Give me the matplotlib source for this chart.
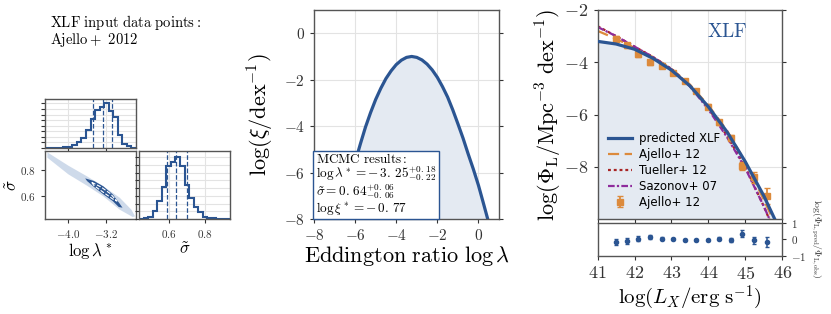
import numpy as np
import matplotlib.pyplot as plt

plt.rcParams['font.family'] = 'serif'
plt.rcParams['font.serif'] = ['cmr10', 'DejaVu Serif']
plt.rcParams['mathtext.fontset'] = 'cm'
plt.rcParams['axes.unicode_minus'] = False

BLEU = '#2b5592'
REMPLI = '#e4eaf2'
ORANGE = '#dc8a3c'
ROUGE = '#a82424'
VIOLET = '#8e2c9c'
GRILLE = '#e3e3e3'
CADRE = '#555555'

# --- corner plot (posterieurs MCMC) ---
bords_lam = np.linspace(-4.5, -2.55, 21)
hist_lam = [0, 0, 0.005, 0.01, 0.02, 0.03, 0.07, 0.13, 0.22, 0.41,
            0.64, 0.85, 0.93, 1.0, 0.82, 0.70, 0.30, 0.10, 0.04, 0.01]
quantiles_lam = [-3.47, -3.25, -3.07]

bords_sig = np.linspace(0.43, 0.94, 21)
hist_sig = [0, 0.01, 0.04, 0.13, 0.29, 0.52, 0.86, 0.93, 1.0, 0.85,
            0.55, 0.34, 0.19, 0.11, 0.04, 0.02, 0.01, 0.005, 0, 0]
quantiles_sig = [0.585, 0.64, 0.70]

# nuage 2D : contours
nuage_x = [-4.45, -4.0, -3.6, -3.25, -2.9, -2.65, -2.57, -2.62, -2.9, -3.25, -3.6, -4.0, -4.45]
nuage_y = [0.93, 0.83, 0.75, 0.675, 0.59, 0.50, 0.45, 0.445, 0.50, 0.60, 0.68, 0.765, 0.89]
coeur_x = [-3.64, -3.45, -3.25, -3.05, -2.9, -2.84, -2.92, -3.05, -3.25, -3.45, -3.6, -3.64]
coeur_y = [0.735, 0.715, 0.675, 0.615, 0.545, 0.515, 0.52, 0.565, 0.615, 0.67, 0.715, 0.735]
interne_x = [-3.5, -3.3, -3.1, -2.96, -3.05, -3.25, -3.45, -3.5]
interne_y = [0.705, 0.67, 0.62, 0.565, 0.58, 0.63, 0.68, 0.705]

# --- distribution du rapport d'Eddington ---
lam_x = [-6.8, -6.5, -6.2, -6.0, -5.75, -5.5, -5.25, -5.0, -4.75, -4.5, -4.25, -4.0,
         -3.75, -3.5, -3.25, -3.0, -2.75, -2.5, -2.25, -2.0, -1.75, -1.5, -1.25,
         -1.0, -0.75, -0.5, -0.25, 0.0, 0.25, 0.45]
lam_y = [-8.0, -6.95, -6.2, -5.55, -4.78, -4.05, -3.42, -2.85, -2.37, -1.95, -1.62, -1.35,
         -1.16, -1.04, -1.0, -1.04, -1.15, -1.33, -1.58, -1.9, -2.3, -2.75, -3.3,
         -3.9, -4.52, -5.2, -5.85, -6.55, -7.35, -8.0]

# --- fonction de luminosite X ---
L_mod = [41.0, 41.5, 42.0, 42.5, 43.0, 43.5, 44.0, 44.5, 45.0, 45.5, 45.8]
phi_pred = [-3.2, -3.3, -3.5, -3.85, -4.3, -4.9, -5.7, -6.65, -7.8, -9.1, -10.0]
L_aj = [41.0, 41.5, 42.0, 42.5, 43.0, 43.5, 44.0, 44.5, 45.0, 45.5, 45.75]
phi_aj = [-2.8, -3.1, -3.45, -3.8, -4.25, -4.85, -5.65, -6.6, -7.8, -9.25, -10.0]
L_tu = [41.0, 41.5, 42.0, 42.5, 43.0, 43.5, 44.0, 44.5, 45.0, 45.5, 45.65]
phi_tu = [-2.62, -3.0, -3.4, -3.8, -4.25, -4.9, -5.75, -6.8, -8.0, -9.5, -10.0]
L_sa = [41.0, 41.5, 42.0, 42.5, 43.0, 43.5, 44.0, 44.5, 45.0, 45.5, 45.72]
phi_sa = [-2.65, -3.0, -3.4, -3.8, -4.27, -4.92, -5.8, -6.85, -8.05, -9.5, -10.2]

L_obs = [41.49, 41.80, 42.10, 42.41, 42.73, 43.04, 43.36, 43.66, 43.98, 44.29, 44.61, 44.92, 45.24, 45.58]
phi_obs = [-3.1, -3.35, -3.68, -4.0, -4.15, -4.4, -4.7, -5.1, -5.7, -6.3, -6.9, -7.95, -8.4, -9.1]
err_obs = [0.12, 0.1, 0.1, 0.1, 0.08, 0.08, 0.08, 0.08, 0.1, 0.1, 0.12, 0.15, 0.2, 0.3]
residus = [-0.15, -0.08, 0.05, 0.12, 0.05, 0.0, -0.05, -0.05, -0.02, 0.05, -0.03, 0.35, -0.05, -0.15]
err_res = [0.2, 0.18, 0.15, 0.12, 0.08, 0.06, 0.05, 0.06, 0.06, 0.08, 0.1, 0.2, 0.2, 0.3]

F_ENT = plt.FormatStrFormatter(r'$%d$')
F_DEC = plt.FormatStrFormatter(r'$%.1f$')


def habiller(ax, taille=7):
    ax.grid(True, color=GRILLE, linewidth=0.8)
    ax.set_axisbelow(True)
    for s in ax.spines.values():
        s.set_color(CADRE)
        s.set_linewidth(1.0)
    ax.tick_params(labelsize=taille, colors='#333333', length=3, width=0.8)


fig = plt.figure(figsize=(8.31, 3.14), dpi=100)

fig.text(0.06, 0.927, r'$\mathrm{XLF\ input\ data\ points:}$', fontsize=10.5, va='center')
fig.text(0.06, 0.874, r'$\mathrm{Ajello+\ 2012}$', fontsize=10.5, va='center')

# histogramme log lambda*
ax_h1 = fig.add_axes([0.0542, 0.5287, 0.1095, 0.156])
ax_h1.stairs(hist_lam, bords_lam, color=BLEU, linewidth=1.5)
for q in quantiles_lam:
    ax_h1.axvline(q, color=BLEU, linestyle='--', linewidth=0.9)
ax_h1.set_xlim(-4.5, -2.55)
ax_h1.set_ylim(0, 1.1)
ax_h1.set_xticks([-4.0, -3.2])
ax_h1.set_yticks(np.arange(0, 1.1, 0.125))
ax_h1.tick_params(labelbottom=False, labelleft=False)
habiller(ax_h1)

# nuage 2D
ax_2d = fig.add_axes([0.0542, 0.3025, 0.1095, 0.2166])
ax_2d.fill(nuage_x, nuage_y, color='#9fb6d6', alpha=0.5, linewidth=0)
ax_2d.fill(coeur_x, coeur_y, color=BLEU, linewidth=0)
ax_2d.plot(interne_x, interne_y, color='white', linestyle='--', linewidth=0.8)
ax_2d.set_xlim(-4.5, -2.55)
ax_2d.set_ylim(0.43, 0.94)
ax_2d.set_xticks([-4.0, -3.2])
ax_2d.set_yticks([0.6, 0.8])
ax_2d.xaxis.set_major_formatter(F_DEC)
ax_2d.yaxis.set_major_formatter(F_DEC)
habiller(ax_2d, 8)
ax_2d.grid(False)
ax_2d.set_xlabel(r'$\log\lambda^*$', fontsize=12, labelpad=1)
ax_2d.set_ylabel(r'$\tilde{\sigma}$', fontsize=12, labelpad=0)

# histogramme sigma
ax_h2 = fig.add_axes([0.1673, 0.3025, 0.1095, 0.2166])
ax_h2.stairs(hist_sig, bords_sig, color=BLEU, linewidth=1.5)
for q in quantiles_sig:
    ax_h2.axvline(q, color=BLEU, linestyle='--', linewidth=0.9)
ax_h2.set_xlim(0.43, 0.94)
ax_h2.set_ylim(0, 1.1)
ax_h2.set_xticks([0.6, 0.8])
ax_h2.set_yticks(np.arange(0, 1.1, 0.125))
ax_h2.xaxis.set_major_formatter(F_DEC)
ax_h2.tick_params(labelleft=False)
habiller(ax_h2, 8)
ax_h2.set_xlabel(r'$\tilde{\sigma}$', fontsize=12, labelpad=1)

# distribution d'Eddington
ax_m = fig.add_axes([0.3779, 0.3025, 0.2226, 0.6656])
ax_m.fill_between(lam_x, lam_y, -8, color=REMPLI, linewidth=0)
ax_m.plot(lam_x, lam_y, color=BLEU, linewidth=2.3)
ax_m.set_xlim(-8, 1)
ax_m.set_ylim(-8, 1)
ax_m.set_xticks([-8, -6, -4, -2, 0])
ax_m.set_yticks([-8, -6, -4, -2, 0])
ax_m.xaxis.set_major_formatter(F_ENT)
ax_m.yaxis.set_major_formatter(F_ENT)
habiller(ax_m, 11)
ax_m.tick_params(right=True)
ax_m.set_xlabel(r'$\mathrm{Eddington\ ratio\ }\log\lambda$', fontsize=16, labelpad=1)
ax_m.set_ylabel(r'$\log(\xi/\mathrm{dex}^{-1})$', fontsize=16, labelpad=6)
ax_m.text(-7.92, -7.9,
          r'$\mathrm{MCMC\ results:}$' '\n'
          r'$\log\lambda^*=-\,3.\,25^{+0.\,18}_{-0.\,22}$' '\n'
          r'$\tilde{\sigma}=0.\,64^{+0.\,06}_{-0.\,06}$' '\n'
          r'$\log\xi^*=-\,0.\,77$',
          fontsize=9.5, va='bottom', ha='left', linespacing=0.9,
          bbox=dict(boxstyle='square,pad=0.2', facecolor='white', edgecolor=BLEU, linewidth=1.0))

# XLF
ax_x = fig.add_axes([0.7192, 0.3016, 0.2221, 0.6666])
ax_x.fill_between(L_mod, phi_pred, -10, color=REMPLI, linewidth=0)
ax_x.plot(L_mod, phi_pred, color=BLEU, linewidth=2.3, label='predicted XLF', zorder=5)
ax_x.plot(L_aj, phi_aj, color=ORANGE, linewidth=1.6, dashes=(5, 2.5), label='Ajello+ 12')
ax_x.plot(L_tu, phi_tu, color=ROUGE, linewidth=1.6, dashes=(1.3, 1.3), label='Tueller+ 12')
ax_x.plot(L_sa, phi_sa, color=VIOLET, linewidth=1.6, dashes=(3, 1, 1, 1), label='Sazonov+ 07')
ax_x.errorbar(L_obs, phi_obs, yerr=err_obs, fmt='s', color=ORANGE, markersize=5,
              elinewidth=1.3, capsize=2, label='Ajello+ 12', zorder=4)
ax_x.set_xlim(41, 46)
ax_x.set_ylim(-10, -2)
ax_x.set_xticks([41, 42, 43, 44, 45, 46])
ax_x.set_yticks([-8, -6, -4, -2])
ax_x.yaxis.set_major_formatter(F_ENT)
ax_x.tick_params(labelbottom=False, right=True)
habiller(ax_x, 13)
ax_x.text(43.95, -2.84, r'$\mathrm{XLF}$', color=BLEU, fontsize=14, ha='left', va='center')
ax_x.set_ylabel(r'$\log(\Phi_{\mathrm{L}}/\mathrm{Mpc}^{-3}\ \mathrm{dex}^{-1})$', fontsize=16, labelpad=0)
ax_x.legend(loc='lower left', bbox_to_anchor=(0.0, 0.0), frameon=False,
            prop={'family': 'DejaVu Sans', 'size': 8.5}, handlelength=2.0,
            handletextpad=0.6, labelspacing=0.25, borderaxespad=0.5)

ax_r = fig.add_axes([0.7192, 0.1847, 0.2221, 0.106])
ax_r.errorbar(L_obs, residus, yerr=err_res, fmt='o', color=BLEU, markersize=3,
              elinewidth=1.1, capsize=1.5)
ax_r.set_xlim(41, 46)
ax_r.set_ylim(-1, 1)
ax_r.set_xticks([41, 42, 43, 44, 45, 46])
ax_r.set_yticks([-1, 0, 1])
ax_r.xaxis.set_major_formatter(F_ENT)
ax_r.yaxis.set_major_formatter(F_ENT)
habiller(ax_r, 13)
ax_r.grid(False)
ax_r.tick_params(axis='y', left=False, right=True, labelleft=False, labelright=True, labelsize=8)
ax_r.set_xlabel(r'$\log(L_X/\mathrm{erg\ s}^{-1})$', fontsize=15, labelpad=1)
fig.text(0.982, 0.24, r'$\log(\Phi_{\mathrm{L,pred}}/\Phi_{\mathrm{L,obs}})$', fontsize=7,
         rotation=270, ha='center', va='center', color='#333333')

fig.savefig('out.png', dpi=100)
